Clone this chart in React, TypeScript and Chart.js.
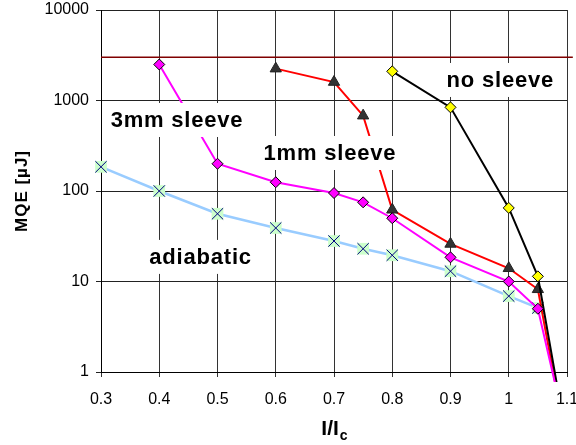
import React, { useEffect, useRef } from "react";
import { Chart, registerables } from "chart.js";

Chart.register(...registerables);

// ---- data ----
const xTicks = [0.3, 0.4, 0.5, 0.6, 0.7, 0.8, 0.9, 1.0, 1.1];
const yTicks = [1, 10, 100, 1000, 10000];

const threeMmX = [0.4, 0.5, 0.6, 0.7, 0.75, 0.8, 0.9, 1.0, 1.05, 1.1];
const threeMmY = [2500, 200, 125, 95, 75, 50, 18.5, 10, 5, 0.2];

const oneMmX = [0.6, 0.7, 0.75, 0.8, 0.9, 1.0, 1.05, 1.1];
const oneMmY = [2250, 1600, 680, 62, 26, 14, 8.2, 0.15];

const noSleeveX = [0.8, 0.9, 1.0, 1.05, 1.1];
const noSleeveY = [2100, 840, 65, 11.4, 0.17];

const adiabaticX = [0.3, 0.4, 0.5, 0.6, 0.7, 0.75, 0.8, 0.9, 1.0, 1.05];
const adiabaticY = [185, 100, 56, 39, 28, 23, 19.5, 13, 6.9, 5.1];

const limitX = [0.3, 1.11];
const limitY = [3000, 3000];

const seriesLabels = [
  { text: "3mm sleeve", x: 0.4305, y: 609 },
  { text: "1mm sleeve", x: 0.693, y: 263 },
  { text: "no sleeve", x: 0.9855, y: 1686 },
  { text: "adiabatic", x: 0.471, y: 18.7 },
];

const FONT = '"Liberation Sans", Arial, sans-serif';

const toPoints = (xs: number[], ys: number[]) => xs.map((x, i) => ({ x, y: ys[i] }));
const lastHidden = (r: number, n: number) => (c: any) => (c.dataIndex === n - 1 ? 0 : r);

const overlay = {
  id: "overlay",
  afterDatasetsDraw(chart: any) {
    const { ctx, scales } = chart;
    const xs = scales.x;
    const ys = scales.y;
    ctx.save();
    ctx.font = `bold 22px ${FONT}`;
    (ctx as any).letterSpacing = "0.8px";
    ctx.textAlign = "left";
    ctx.textBaseline = "middle";
    for (const l of seriesLabels) {
      const px = xs.getPixelForValue(l.x);
      const py = ys.getPixelForValue(l.y);
      const w = ctx.measureText(l.text).width;
      ctx.fillStyle = "#ffffff";
      ctx.fillRect(px - w / 2 - 5, py - 17, w + 10, 34);
      ctx.fillStyle = "#000000";
      ctx.fillText(l.text, px - w / 2, py + 1);
    }
    ctx.restore();
  },
  afterDraw(chart: any) {
    const { ctx, chartArea } = chart;
    ctx.save();
    ctx.fillStyle = "#000";
    // x title I/Ic
    const cx = (chartArea.left + chartArea.right) / 2;
    const base = chartArea.bottom + 63;
    ctx.textBaseline = "alphabetic";
    ctx.textAlign = "left";
    ctx.font = `bold 21px ${FONT}`;
    const main = "I/I";
    const wMain = ctx.measureText(main).width;
    ctx.font = `bold 14px ${FONT}`;
    const wSub = ctx.measureText("c").width;
    const start = cx - (wMain + wSub) / 2;
    ctx.font = `bold 21px ${FONT}`;
    ctx.fillText(main, start, base);
    ctx.font = `bold 14px ${FONT}`;
    ctx.fillText("c", start + wMain + 1, base + 5);
    // y title
    ctx.translate(22.5, (chartArea.top + chartArea.bottom) / 2);
    ctx.rotate(-Math.PI / 2);
    ctx.font = `bold 17px ${FONT}`;
    (ctx as any).letterSpacing = "1px";
    ctx.textAlign = "center";
    ctx.textBaseline = "middle";
    ctx.fillText("MQE [\u00b5J]", 0, 0);
    ctx.restore();
  },
};

export default function App() {
  const ref = useRef<HTMLCanvasElement>(null);
  useEffect(() => {
    if (!ref.current) return;
    const chart = new Chart(ref.current, {
      type: "line",
      data: {
        datasets: [
          {
            label: "3mm sleeve",
            data: toPoints(threeMmX, threeMmY),
            borderColor: "#ff00ff",
            borderWidth: 2,
            pointStyle: "rectRot",
            pointRadius: lastHidden(5.5, threeMmX.length),
            pointBackgroundColor: "#ff00ff",
            pointBorderColor: "#000",
            pointBorderWidth: 1,
            clip: { left: 0, top: 0, right: 0, bottom: 10 } as any,
            order: 1,
          },
          {
            label: "no sleeve",
            data: toPoints(noSleeveX, noSleeveY),
            borderColor: "#000000",
            borderWidth: 2,
            pointStyle: "rectRot",
            pointRadius: lastHidden(5.5, noSleeveX.length),
            pointBackgroundColor: "#ffff00",
            pointBorderColor: "#000",
            pointBorderWidth: 1,
            clip: { left: 0, top: 0, right: 0, bottom: 10 } as any,
            order: 2,
          },
          {
            label: "1mm sleeve",
            data: toPoints(oneMmX, oneMmY),
            borderColor: "#ff0000",
            borderWidth: 2,
            pointStyle: "triangle",
            pointRadius: lastHidden(6.5, oneMmX.length),
            pointBackgroundColor: "#333333",
            pointBorderColor: "#222222",
            pointBorderWidth: 1,
            clip: { left: 0, top: 0, right: 0, bottom: 10 } as any,
            order: 3,
          },
          {
            label: "adiabatic marks",
            data: toPoints(adiabaticX, adiabaticY),
            showLine: false,
            pointStyle: "crossRot",
            pointRadius: 8,
            pointBorderColor: "#000080",
            pointBorderWidth: 1,
            clip: { left: 10, top: 0, right: 0, bottom: 0 } as any,
            order: 4,
          },
          {
            label: "adiabatic",
            data: toPoints(adiabaticX, adiabaticY),
            borderColor: "#99ccff",
            borderWidth: 2.5,
            pointStyle: "rect",
            pointRadius: 8.3,
            pointBackgroundColor: "#ccffcc",
            pointBorderColor: "#ccffcc",
            pointBorderWidth: 0,
            clip: { left: 10, top: 0, right: 0, bottom: 0 } as any,
            order: 5,
          },
          {
            label: "limit",
            data: toPoints(limitX, limitY),
            borderColor: "#800000",
            borderWidth: 1.5,
            pointRadius: 0,
            clip: { left: 0, top: 0, right: 10, bottom: 0 } as any,
            order: 6,
          },
        ],
      },
      options: {
        animation: false,
        responsive: false,
        events: [],
        layout: { padding: { top: 10, right: 9, left: 0, bottom: 0 } },
        plugins: { legend: { display: false }, tooltip: { enabled: false } },
        scales: {
          x: {
            type: "linear",
            min: 0.3,
            max: 1.1,
            afterBuildTicks: (s: any) => {
              s.ticks = xTicks.map((v) => ({ value: v }));
            },
            afterFit: (s: any) => {
              s.height = 73;
              s.paddingLeft = 0;
              s.paddingRight = 0;
            },
            ticks: {
              color: "#000",
              font: { family: FONT, size: 16 },
              padding: 13,
              maxRotation: 0,
              callback: (v: any) => String(Number(Number(v).toFixed(1))),
            },
            grid: { color: "#333", lineWidth: 1, tickLength: 5 },
            border: { color: "#000", width: 1 },
          },
          y: {
            type: "logarithmic",
            min: 1,
            max: 10000,
            afterBuildTicks: (s: any) => {
              s.ticks = yTicks.map((v) => ({ value: v }));
            },
            afterFit: (s: any) => {
              s.width = 101;
              s.paddingTop = 0;
              s.paddingBottom = 0;
            },
            ticks: {
              color: "#000",
              font: { family: FONT, size: 16 },
              padding: 7,
              callback: (v: any) => String(v),
            },
            grid: { color: "#222", lineWidth: 1, tickLength: 5 },
            border: { color: "#000", width: 1 },
          },
        },
      },
      plugins: [overlay],
    });
    return () => chart.destroy();
  }, []);
  return (
    <div style={{ position: "absolute", left: 0, top: 0, width: 576, height: 445, background: "#fff" }}>
      <canvas ref={ref} width={576} height={445} style={{ display: "block" }} />
    </div>
  );
}
